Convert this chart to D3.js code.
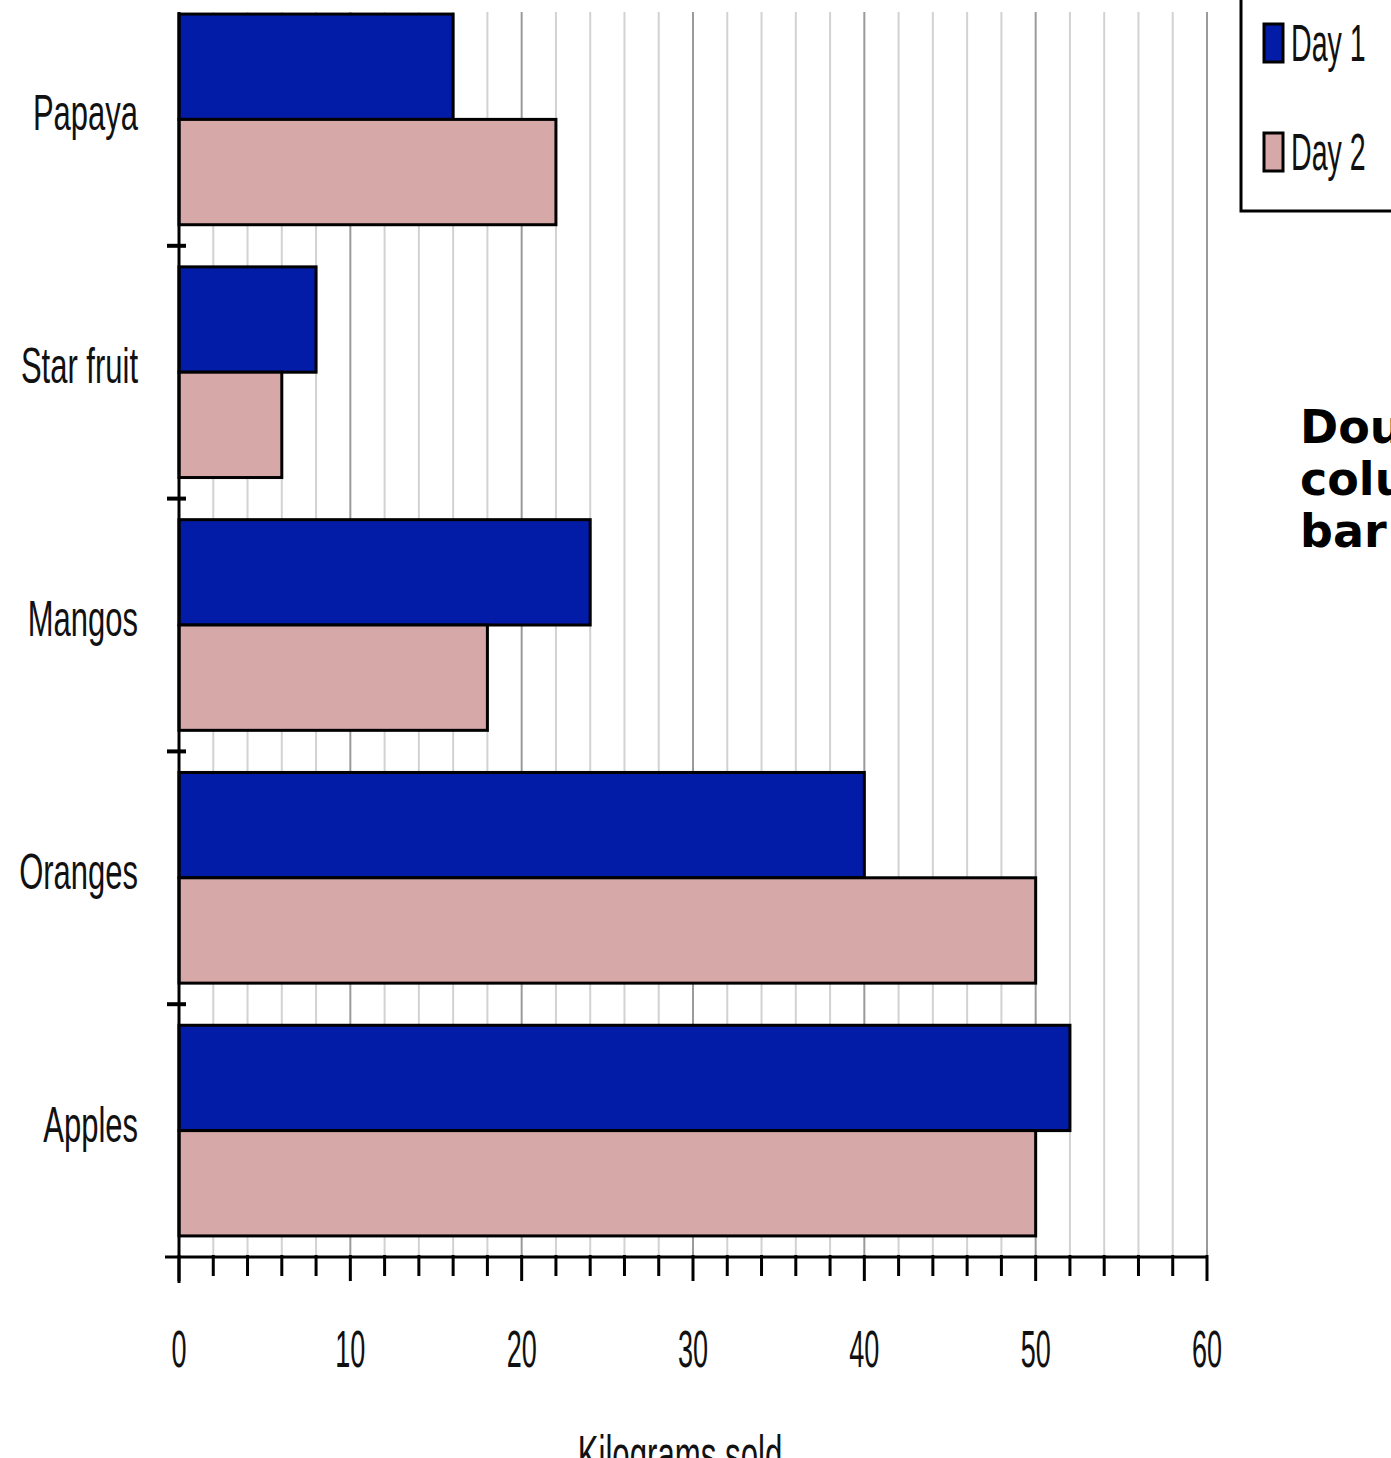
<!DOCTYPE html>
<html>
<head>
<meta charset="utf-8">
<script src="https://cdn.jsdelivr.net/npm/d3@7"></script>
<style>
  html, body { margin: 0; padding: 0; background: #fff; overflow: hidden; }
  svg { display: block; }
</style>
</head>
<body>
<svg id="chart" width="1391" height="1458"></svg>
<script>
// Kilograms of fruit sold on two days
const categories = ["Papaya", "Star fruit", "Mangos", "Oranges", "Apples"];
const seriesNames = ["Day 1", "Day 2"];
const day1 = [16, 8, 24, 40, 52];
const day2 = [22, 6, 18, 50, 50];
const tickValues = [0, 10, 20, 30, 40, 50, 60];
const colors = ["#031ca8", "#d6a8a8"];
const titleLines = ["Double", "column", "bar graph"];
const axisTitle = "Kilograms sold";

const svg = d3.select("#chart");
const plot = { left: 179, right: 1207, top: -7, bottom: 1257, gridTop: 12 };
const labelFont = "'Liberation Sans', Arial, sans-serif";

const x = d3.scaleLinear().domain([0, 60]).range([plot.left, plot.right]);
const y = d3.scaleBand().domain(categories).range([plot.top, plot.bottom]).padding(0);
const ySub = d3.scaleBand().domain(seriesNames).range([0, y.bandwidth()])
  .paddingInner(0).paddingOuter(0.2);

// narrow label helper
function narrowText(sel, tx, ty, txt, size, sx, anchor) {
  return sel.append("text")
    .attr("transform", `translate(${tx},${ty}) scale(${sx},1)`)
    .attr("text-anchor", anchor)
    .attr("font-family", labelFont)
    .attr("font-size", size)
    .attr("fill", "#111")
    .text(txt);
}

// vertical gridlines every 2 kg, darker every 10 kg
const grid = svg.append("g");
grid.selectAll("line").data(d3.range(2, 61, 2)).join("line")
  .attr("x1", d => x(d)).attr("x2", d => x(d))
  .attr("y1", plot.gridTop).attr("y2", plot.bottom)
  .attr("stroke", d => d % 10 === 0 ? "#9a9a9a" : "#d2d2d2")
  .attr("stroke-width", 2);

// bars
const rows = categories.map((c, i) => ({ cat: c, values: [day1[i], day2[i]] }));
const groups = svg.append("g").selectAll("g").data(rows).join("g")
  .attr("transform", d => `translate(0,${y(d.cat)})`);
groups.selectAll("rect").data(d => d.values.map((v, j) => ({ s: seriesNames[j], v, j })))
  .join("rect")
  .attr("x", x(0))
  .attr("y", d => ySub(d.s))
  .attr("width", d => x(d.v) - x(0))
  .attr("height", ySub.bandwidth())
  .attr("fill", d => colors[d.j])
  .attr("stroke", "#000")
  .attr("stroke-width", 3);

// category axis
svg.append("line")
  .attr("x1", plot.left).attr("x2", plot.left)
  .attr("y1", plot.gridTop).attr("y2", plot.bottom + 26)
  .attr("stroke", "#000").attr("stroke-width", 3);
svg.append("g").selectAll("line").data(categories.slice(1)).join("line")
  .attr("x1", plot.left - 12).attr("x2", plot.left + 7)
  .attr("y1", d => y(d)).attr("y2", d => y(d))
  .attr("stroke", "#000").attr("stroke-width", 4);
const catLabels = svg.append("g");
categories.forEach(c => {
  narrowText(catLabels, 138, y(c) + y.bandwidth() / 2 + 11, c, 50, 0.62, "end");
});

// value axis
svg.append("line")
  .attr("x1", plot.left - 14).attr("x2", plot.right)
  .attr("y1", plot.bottom).attr("y2", plot.bottom)
  .attr("stroke", "#000").attr("stroke-width", 3);
svg.append("g").selectAll("line").data(d3.range(0, 61, 2)).join("line")
  .attr("x1", d => x(d)).attr("x2", d => x(d))
  .attr("y1", plot.bottom - 2)
  .attr("y2", d => plot.bottom + (d % 10 === 0 ? 24 : 19))
  .attr("stroke", "#000").attr("stroke-width", 3);
const tickLabels = svg.append("g");
tickValues.forEach(v => {
  narrowText(tickLabels, x(v), 1367, String(v), 52, 0.52, "middle");
});
narrowText(svg, 680, 1472, axisTitle, 52, 0.6, "middle");

// legend
const legend = svg.append("g");
legend.append("rect")
  .attr("x", 1241).attr("y", -10).attr("width", 200).attr("height", 221)
  .attr("fill", "#fff").attr("stroke", "#000").attr("stroke-width", 3);
const legendY = d3.scalePoint().domain(seriesNames).range([43, 152]);
seriesNames.forEach((s, j) => {
  legend.append("rect")
    .attr("x", 1264).attr("y", legendY(s) - 19)
    .attr("width", 19).attr("height", 38)
    .attr("fill", colors[j]).attr("stroke", "#000").attr("stroke-width", 3);
  narrowText(legend, 1291, legendY(s) + 18, s, 52, 0.55, "start");
});

// side title
const title = svg.append("text")
  .attr("x", 1300)
  .attr("font-family", "'DejaVu Sans', sans-serif")
  .attr("font-weight", "bold")
  .attr("font-size", 46)
  .attr("fill", "#000");
title.selectAll("tspan").data(titleLines).join("tspan")
  .attr("x", 1300)
  .attr("y", (d, i) => 443 + i * 52)
  .text(d => d);
</script>
</body>
</html>
